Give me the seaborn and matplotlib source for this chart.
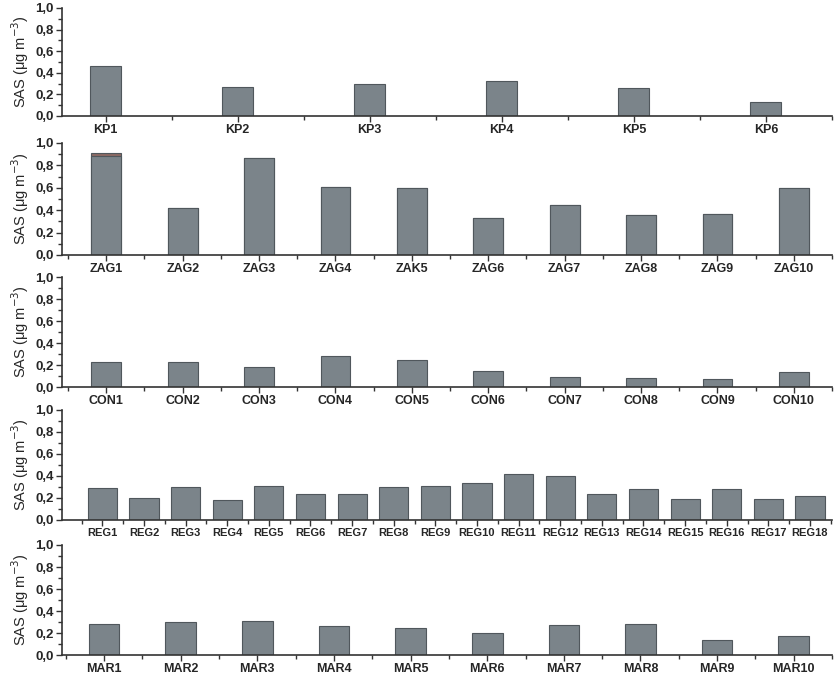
import matplotlib
matplotlib.use('Agg')
import matplotlib.pyplot as plt
import seaborn as sns
from matplotlib.ticker import MultipleLocator, FuncFormatter, FixedLocator

sns.set_theme(style='ticks')
plt.rcParams['font.family'] = ['Liberation Sans', 'DejaVu Sans']

# ── Data ──────────────────────────────────────────────────────────────────────
kp_sites = ['KP1', 'KP2', 'KP3', 'KP4', 'KP5', 'KP6']
kp_sas = [0.46, 0.27, 0.30, 0.32, 0.26, 0.13]

zag_sites = ['ZAG1', 'ZAG2', 'ZAG3', 'ZAG4', 'ZAK5', 'ZAG6', 'ZAG7', 'ZAG8', 'ZAG9', 'ZAG10']
zag_sas = [0.88, 0.42, 0.87, 0.61, 0.60, 0.33, 0.45, 0.36, 0.37, 0.60]
zag_extra = [0.03, 0, 0, 0, 0, 0, 0, 0, 0, 0]

con_sites = ['CON1', 'CON2', 'CON3', 'CON4', 'CON5', 'CON6', 'CON7', 'CON8', 'CON9', 'CON10']
con_sas = [0.23, 0.23, 0.18, 0.28, 0.25, 0.15, 0.09, 0.08, 0.07, 0.14]

reg_sites = ['REG%d' % i for i in range(1, 19)]
reg_sas = [0.29, 0.20, 0.30, 0.18, 0.31, 0.24, 0.24, 0.30, 0.31, 0.34,
           0.42, 0.40, 0.24, 0.28, 0.19, 0.28, 0.19, 0.22]

mar_sites = ['MAR%d' % i for i in range(1, 11)]
mar_sas = [0.28, 0.30, 0.31, 0.26, 0.25, 0.20, 0.27, 0.28, 0.14, 0.17]

BAR = '#7b848a'
EDGE = '#50575c'
TOPSEG = '#8c6a64'
AXC = '#333333'

W, H = 837, 677
fig = plt.figure(figsize=(W / 100, H / 100), dpi=100)

# (sites, values, bar width, xlim, label size, panel top/bottom in px)
panels = [
    (kp_sites, kp_sas, 0.235, (-0.33, 5.5), 9, 8, 116),
    (zag_sites, zag_sas, 0.39, (-0.58, 9.5), 9, 143, 255),
    (con_sites, con_sas, 0.39, (-0.58, 9.5), 9, 277, 387),
    (reg_sites, reg_sas, 0.70, (-0.97, 17.53), 8, 410, 520),
    (mar_sites, mar_sas, 0.40, (-0.55, 9.5), 9, 545, 655),
]

fmt = FuncFormatter(lambda v, p: f'{v:.1f}'.replace('.', ','))

for i, (sites, vals, bw, xl, fs, top, bot) in enumerate(panels):
    ax = fig.add_axes([62 / W, 1 - bot / H, (832 - 62) / W, (bot - top) / H])
    if sites is zag_sites:
        totals = [a + b for a, b in zip(vals, zag_extra)]
        sns.barplot(x=sites, y=totals, color=TOPSEG, saturation=1, width=bw,
                    edgecolor=EDGE, linewidth=0.8, ax=ax)
    sns.barplot(x=sites, y=vals, color=BAR, saturation=1, width=bw,
                edgecolor=EDGE, linewidth=0.8, ax=ax)
    ax.set_xlim(*xl)
    ax.set_ylim(0, 1.0)
    ax.yaxis.set_major_locator(MultipleLocator(0.2))
    ax.yaxis.set_minor_locator(MultipleLocator(0.1))
    ax.yaxis.set_major_formatter(fmt)
    ax.xaxis.set_minor_locator(FixedLocator([k - 0.5 for k in range(len(sites) + 1)]))
    sns.despine(ax=ax)
    for side in ['left', 'bottom']:
        ax.spines[side].set_color(AXC)
        ax.spines[side].set_linewidth(1.2)
    ax.tick_params(axis='both', which='major', direction='out', length=4,
                   width=1, color=AXC, pad=2)
    ax.tick_params(axis='both', which='minor', direction='out', length=3,
                   width=1, color=AXC)
    for lab in ax.get_yticklabels():
        lab.set_fontsize(9.5)
        lab.set_fontweight('bold')
    for lab in ax.get_xticklabels():
        lab.set_fontsize(fs)
        lab.set_fontweight('bold')
    ax.set_xlabel('')
    ax.set_ylabel('SAS (μg m$^{-3}$)', fontsize=10.5, labelpad=3)
    ax.grid(False)

fig.savefig('out.png', dpi=100)
